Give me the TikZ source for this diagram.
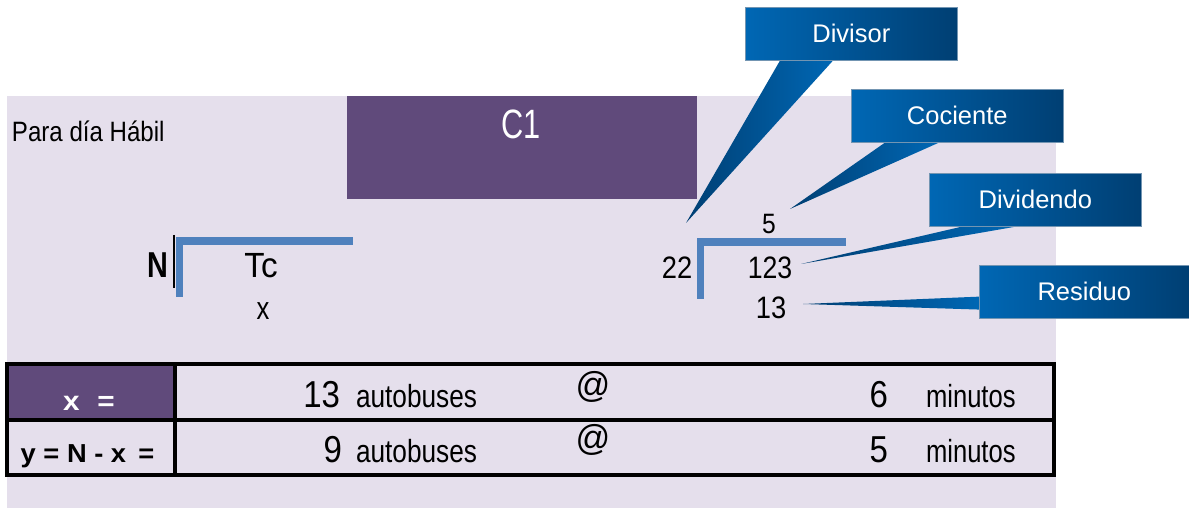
\documentclass[tikz,border=0pt]{standalone}
\usepackage{fontspec}
\setmainfont{Liberation Sans}
\usepackage{graphicx}
\usetikzlibrary{calc}
\definecolor{lav}{HTML}{E5DFEC}
\definecolor{plum}{HTML}{604A7B}
\definecolor{bbl}{HTML}{4F81BD}
\definecolor{cdark}{HTML}{003F73}
\definecolor{cmid}{HTML}{0067B4}
\newcommand{\fsz}[1]{\fontsize{#1}{#1}\selectfont}
\newcommand{\cnd}[2]{\scalebox{#1}[1]{#2}}
\pgfdeclarelayer{bg}
\pgfdeclarelayer{mid}
\pgfsetlayers{bg,mid,main}
\begin{document}
\begin{tikzpicture}[x=1pt,y=-1pt,
  txt/.style={inner sep=0pt,outer sep=0pt},
  callout/.style={draw=cdark!55!white,line width=0.6pt,left color=cmid,right color=cdark,
     text=white,font=\fsz{25.5},inner sep=0pt,anchor=north west,minimum height=53pt},
  wedge/.style={left color=cdark,right color=cmid},
  bracket/.style={draw=bbl,line width=7.5pt,line join=miter},
  tbl/.style={draw=black,line width=3.5pt}]
\useasboundingbox (0,0) rectangle (1189,510);
\begin{pgfonlayer}{bg}
\fill[white] (0,0) rectangle (1189,510);
\fill[lav] (7,96) rectangle (1056,508);
\fill[plum] (347,96) rectangle (697,199);
\end{pgfonlayer}
% texts top
\node[txt,anchor=base west] (para) at (12,142) {\fsz{28}\cnd{0.86}{Para día Hábil}};
\node[txt,anchor=base,text=white] (cone) at (521,139) {\fsz{41}\cnd{0.75}{C1}};
% left bracket
\node[txt,anchor=base] (nN) at (158,278) {\fsz{36}\bfseries\cnd{0.8}{N}};
\draw[black,line width=2pt] (174,235) -- (174,288);
\draw[bracket] (179.5,297) -- (179.5,241) -- (353,241);
\node[txt,anchor=base] (tc) at (261,278) {\fsz{35}\cnd{0.95}{Tc}};
\node[txt,anchor=base] (xx) at (263,320) {\fsz{32}\cnd{0.8}{x}};
% right division
\draw[bracket] (700.5,299) -- (700.5,242) -- (846,242);
\node[txt,anchor=base] (d22) at (677,279) {\fsz{31}\cnd{0.88}{22}};
\node[txt,anchor=base] (d123) at (770,279) {\fsz{31}\cnd{0.86}{123}};
\node[txt,anchor=base] (d5) at (769,234) {\fsz{28}\cnd{0.88}{5}};
\node[txt,anchor=base] (d13) at (771,319) {\fsz{31}\cnd{0.88}{13}};
% table
\fill[plum] (7,364) rectangle (175,420);
\draw[tbl] (7,364) rectangle (1054,475);
\draw[tbl] (7,420) -- (1054,420);
\draw[tbl] (175,364) -- (175,475);
\node[txt,anchor=base,text=white] (lx) at (89,410) {\fsz{27}\bfseries\cnd{1.1}{x\hspace{0.6em}=}};
\node[txt,anchor=base] (ly) at (87.5,463) {\fsz{26}\bfseries\cnd{1.05}{y = N - x \,=}};
\node[txt,anchor=base east] (n13) at (340,408) {\fsz{37.5}\cnd{0.88}{13}};
\node[txt,anchor=base west] (a1) at (356,408) {\fsz{32}\cnd{0.82}{autobuses}};
\node[txt,anchor=center] (at1) at (593,387) {\fsz{36}\cnd{0.95}{@}};
\node[txt,anchor=base east] (n6) at (888,408) {\fsz{37.5}\cnd{0.88}{6}};
\node[txt,anchor=base west] (m1) at (926,408) {\fsz{32}\cnd{0.8}{minutos}};
\node[txt,anchor=base east] (n9) at (342,463) {\fsz{37.5}\cnd{0.88}{9}};
\node[txt,anchor=base west] (a2) at (356,463) {\fsz{32}\cnd{0.82}{autobuses}};
\node[txt,anchor=center] (at2) at (593,440) {\fsz{36}\cnd{0.95}{@}};
\node[txt,anchor=base east] (n5) at (888,463) {\fsz{37.5}\cnd{0.88}{5}};
\node[txt,anchor=base west] (m2) at (926,463) {\fsz{32}\cnd{0.8}{minutos}};
% callouts
\node[callout,minimum width=212pt] (divisor) at (745,7) {Divisor};
\node[callout,minimum width=212pt] (cociente) at (851,89) {Cociente};
\node[callout,minimum width=212pt] (dividendo) at (929,173) {Dividendo};
\node[callout,minimum width=210pt] (residuo) at (979,265) {Residuo};
\coordinate (tipdiv) at (686,223);
\coordinate (tipcoc) at (790,209);
\coordinate (tipdvd) at (801,264);
\coordinate (tipres) at (803,304);
\begin{pgfonlayer}{mid}
\shade[wedge] ($(divisor.south west)+(35,0)$) -- (tipdiv) -- ($(divisor.south west)+(88,0)$) -- cycle;
\shade[wedge] ($(cociente.south west)+(34,0)$) -- (tipcoc) -- ($(cociente.south west)+(88,0)$) -- cycle;
\shade[wedge] ($(dividendo.south west)+(33,0)$) -- (tipdvd) -- ($(dividendo.south west)+(87,0)$) -- cycle;
\shade[wedge] ($(residuo.south west)+(1,-22)$) -- (tipres) -- ($(residuo.south west)+(1,-9)$) -- cycle;
\end{pgfonlayer}
\end{tikzpicture}
\end{document}
